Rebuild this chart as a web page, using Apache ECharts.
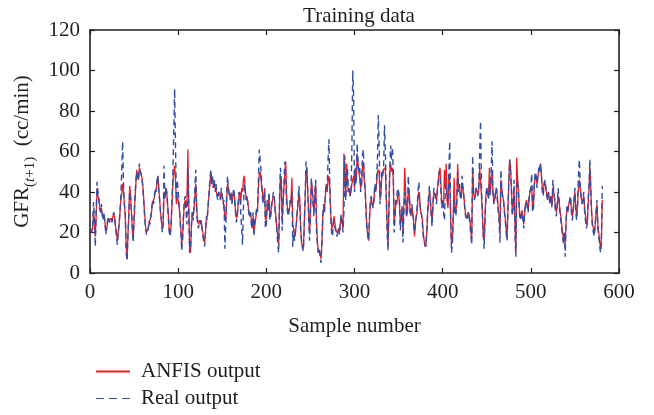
<!DOCTYPE html>
<html>
<head>
<meta charset="utf-8">
<script src="https://cdn.jsdelivr.net/npm/echarts@6/dist/echarts.min.js"></script>
<style>
  html, body { margin: 0; padding: 0; background: #fff; }
  #chart { width: 654px; height: 415px; }
</style>
</head>
<body>
<div id="chart"></div>
<script>
// Glomerular filtration rate, one value per training sample (cc/min)
const realOutput = [
  22, 20, 24, 35, 28, 13, 30, 45, 40, 38,
  32, 30, 34, 28, 26, 30, 24, 19, 22, 26,
  28, 25, 26, 27, 25, 28, 30, 27, 22, 18,
  14, 20, 24, 30, 38, 51, 65, 44, 34, 30,
  10, 6, 18, 28, 40, 38, 30, 22, 15, 28,
  38, 45, 50, 48, 46, 54, 50, 49, 46, 42,
  35, 28, 22, 19, 20, 21, 26, 24, 28, 32,
  36, 34, 38, 42, 40, 46, 48, 40, 36, 30,
  26, 20, 24, 53, 36, 42, 40, 34, 26, 20,
  18, 24, 36, 48, 70, 91, 62, 36, 46, 40,
  34, 28, 20, 11, 16, 28, 36, 38, 30, 24,
  52, 32, 10, 12, 24, 30, 26, 34, 42, 51,
  30, 24, 22, 25, 24, 26, 22, 18, 16, 13,
  20, 28, 26, 34, 40, 46, 51, 44, 48, 42,
  46, 40, 44, 38, 36, 40, 38, 36, 42, 38,
  34, 36, 12, 24, 38, 48, 42, 38, 36, 40,
  34, 38, 42, 36, 30, 25, 28, 34, 40, 38,
  30, 22, 14, 32, 44, 40, 36, 38, 34, 30,
  28, 30, 24, 22, 30, 18, 26, 28, 32, 30,
  46, 61, 56, 50, 42, 34, 38, 40, 22, 24,
  36, 30, 40, 26, 28, 34, 36, 40, 38, 30,
  26, 20, 14, 10, 38, 52, 46, 21, 36, 44,
  55, 48, 34, 30, 28, 32, 36, 34, 40, 13,
  22, 16, 20, 24, 30, 36, 43, 34, 20, 16,
  12, 11, 22, 38, 55, 50, 40, 28, 16, 30,
  47, 42, 34, 28, 40, 46, 20, 14, 10, 12,
  8, 5, 14, 28, 34, 30, 40, 44, 42, 56,
  66, 44, 28, 20, 18, 24, 26, 22, 20, 18,
  20, 22, 19, 26, 29, 24, 20, 30, 58, 36,
  46, 52, 40, 42, 38, 40, 60, 100, 88, 40,
  48, 44, 64, 55, 50, 52, 40, 44, 58, 61,
  48, 42, 30, 22, 20, 16, 28, 36, 38, 34,
  32, 36, 44, 40, 46, 56, 78, 62, 34, 40,
  50, 48, 52, 73, 60, 40, 20, 11, 30, 52,
  63, 56, 62, 50, 20, 28, 36, 38, 42, 40,
  36, 21, 28, 33, 15, 30, 40, 36, 28, 30,
  48, 40, 30, 28, 34, 30, 26, 20, 24, 28,
  32, 40, 45, 36, 30, 29, 24, 18, 16, 14,
  13, 20, 30, 38, 43, 36, 28, 23, 34, 42,
  40, 36, 34, 40, 46, 50, 48, 40, 32, 36,
  30, 26, 40, 44, 38, 34, 50, 65, 30, 10,
  14, 28, 36, 30, 28, 34, 50, 40, 44, 38,
  36, 48, 42, 38, 32, 28, 28, 26, 30, 28,
  24, 18, 14, 58, 40, 36, 38, 42, 40, 38,
  44, 60, 75, 42, 30, 20, 12, 26, 36, 42,
  40, 36, 44, 38, 50, 65, 40, 34, 36, 40,
  42, 36, 30, 26, 15, 51, 42, 38, 36, 30,
  26, 20, 16, 30, 44, 56, 50, 40, 28, 34,
  46, 20, 8, 40, 46, 40, 30, 26, 28, 30,
  26, 22, 30, 34, 35, 32, 30, 38, 40, 42,
  49, 30, 32, 45, 50, 48, 42, 48, 52, 50,
  54, 48, 40, 38, 44, 46, 42, 38, 36, 40,
  36, 34, 38, 32, 46, 40, 36, 30, 28, 34,
  42, 36, 30, 26, 22, 18, 14, 20, 8, 26,
  33, 30, 34, 36, 38, 30, 26, 30, 36, 42,
  30, 26, 34, 48, 56, 44, 38, 34, 36, 40,
  30, 26, 22, 24, 36, 44, 56, 40, 28, 22,
  20, 18, 24, 30, 36, 22, 18, 14, 10, 14,
  43
];

const anfisOutput = [
  20, 21, 22, 30, 26, 18, 28, 42, 38, 36,
  33, 30, 32, 29, 27, 28, 25, 21, 22, 25,
  27, 26, 26, 27, 26, 28, 29, 27, 23, 20,
  16, 20, 24, 30, 36, 39, 44, 40, 34, 28,
  14, 7, 18, 30, 43, 38, 30, 22, 17, 26,
  36, 44, 51, 47, 46, 52, 50, 49, 47, 43,
  36, 29, 23, 20, 21, 22, 25, 26, 28, 31,
  35, 36, 37, 40, 41, 45, 48, 42, 36, 30,
  26, 22, 24, 40, 38, 42, 40, 34, 28, 20,
  19, 24, 34, 44, 50, 53, 46, 34, 38, 36,
  33, 28, 22, 14, 18, 27, 34, 36, 32, 36,
  61, 34, 12, 10, 22, 30, 28, 32, 38, 44,
  32, 26, 24, 26, 25, 26, 23, 20, 17, 15,
  20, 27, 28, 33, 39, 44, 50, 45, 46, 42,
  44, 42, 42, 39, 38, 40, 39, 37, 40, 38,
  36, 36, 28, 26, 36, 44, 42, 39, 37, 39,
  35, 38, 40, 37, 31, 27, 28, 34, 38, 40,
  34, 42, 40, 46, 48, 42, 37, 38, 35, 31,
  28, 30, 26, 22, 28, 20, 24, 27, 31, 32,
  42, 49, 50, 46, 42, 38, 36, 42, 26, 27,
  34, 32, 38, 28, 29, 33, 36, 38, 37, 32,
  27, 22, 18, 14, 34, 48, 45, 26, 34, 42,
  50, 55, 38, 32, 30, 31, 34, 36, 47, 24,
  22, 18, 20, 24, 30, 34, 40, 35, 22, 15,
  13, 12, 24, 36, 50, 52, 40, 30, 20, 30,
  44, 42, 36, 30, 38, 44, 24, 15, 10, 11,
  9, 7, 15, 27, 33, 32, 38, 44, 40, 46,
  48, 42, 30, 23, 22, 26, 28, 24, 21, 20,
  21, 22, 20, 25, 28, 25, 22, 59, 50, 38,
  54, 46, 40, 42, 38, 40, 44, 44, 48, 42,
  52, 46, 59, 54, 50, 50, 42, 44, 52, 55,
  46, 42, 32, 24, 18, 16, 26, 34, 37, 34,
  33, 36, 42, 40, 44, 50, 51, 49, 36, 40,
  48, 50, 51, 52, 51, 38, 24, 14, 32, 50,
  54, 50, 52, 46, 24, 30, 36, 34, 38, 40,
  34, 24, 26, 32, 20, 34, 52, 40, 28, 30,
  42, 40, 32, 28, 32, 30, 26, 18, 24, 28,
  30, 38, 40, 36, 30, 29, 26, 20, 16, 13,
  14, 20, 30, 36, 40, 36, 30, 25, 34, 40,
  40, 38, 36, 42, 44, 50, 52, 44, 34, 36,
  32, 51, 42, 54, 36, 32, 46, 48, 26, 14,
  16, 28, 47, 32, 30, 36, 54, 42, 44, 38,
  37, 44, 42, 38, 33, 29, 28, 27, 30, 29,
  26, 20, 17, 52, 40, 37, 38, 42, 40, 39,
  42, 52, 52, 38, 30, 18, 16, 28, 38, 42,
  40, 38, 52, 40, 46, 50, 40, 35, 36, 40,
  42, 38, 32, 28, 20, 46, 42, 38, 36, 31,
  27, 22, 17, 32, 46, 56, 52, 42, 30, 34,
  40, 24, 10, 57, 46, 40, 32, 27, 28, 31,
  27, 24, 30, 34, 36, 34, 31, 36, 40, 42,
  43, 32, 34, 44, 48, 47, 44, 48, 50, 52,
  54, 48, 42, 39, 44, 45, 42, 39, 37, 40,
  37, 35, 38, 34, 42, 40, 37, 32, 30, 34,
  38, 36, 31, 28, 24, 20, 17, 20, 14, 26,
  32, 31, 34, 35, 37, 32, 28, 31, 36, 40,
  32, 28, 34, 42, 46, 42, 38, 35, 36, 38,
  32, 28, 24, 25, 34, 42, 52, 42, 30, 24,
  22, 20, 24, 30, 34, 24, 20, 16, 12, 16,
  36
];

const xTicks = [0, 100, 200, 300, 400, 500, 600];
const yTicks = [0, 20, 40, 60, 80, 100, 120];

const FONT = '"Liberation Serif", "DejaVu Serif", serif';
const INK = '#231f20';
const RED = '#ee1c25';
const BLUE = '#2f4fa6';

// legend keys: a solid bar and a three-dash stroke
const SOLID_KEY = 'rect';
const DASHED_KEY = 'path://M0,0h8v1h-8z M13,0h8v1h-8z M26,0h8v1h-8z';

const toPairs = arr => arr.map((v, i) => [i + 1, v]);

// shared styling for the four sides of the frame
const boxAxis = (extra) => Object.assign({
  axisLine: { show: true, onZero: false, lineStyle: { color: INK, width: 1.6 } },
  axisTick: { show: true, inside: true, length: 5, lineStyle: { color: INK, width: 1.2 } },
  splitLine: { show: false }
}, extra);

const legendEntry = (name, icon, color, top) => ({
  left: 91, top: top,
  itemWidth: 34, itemHeight: 2,
  itemStyle: { color: color, borderWidth: 0 },
  lineStyle: { width: 0 },
  textStyle: { fontFamily: FONT, fontSize: 21, color: INK, padding: [0, 0, 0, 6] },
  data: [{ name: name, icon: icon, itemStyle: { color: color, borderWidth: 0 } }]
});

const chart = echarts.init(document.getElementById('chart'), null, { renderer: 'canvas' });

chart.setOption({
  animation: false,
  backgroundColor: '#ffffff',
  title: {
    text: 'Training data',
    left: 354, textAlign: 'center',
    top: 1,
    textStyle: { fontFamily: FONT, fontSize: 21, fontWeight: 'normal', color: INK }
  },
  grid: { left: 90, right: 35, top: 30, bottom: 142, containLabel: false },
  legend: [
    legendEntry('ANFIS output', SOLID_KEY, RED, 356),
    legendEntry('Real output', DASHED_KEY, BLUE, 383)
  ],
  xAxis: [
    boxAxis({
      type: 'value', min: xTicks[0], max: xTicks[xTicks.length - 1], interval: 100,
      position: 'bottom',
      name: 'Sample number', nameLocation: 'middle', nameGap: 43,
      nameTextStyle: { fontFamily: FONT, fontSize: 21, color: INK },
      axisLabel: { margin: 9, fontFamily: FONT, fontSize: 21, color: INK }
    }),
    boxAxis({
      type: 'value', min: xTicks[0], max: xTicks[xTicks.length - 1], interval: 100,
      position: 'top', axisLabel: { show: false }
    })
  ],
  yAxis: [
    boxAxis({
      type: 'value', min: yTicks[0], max: yTicks[yTicks.length - 1], interval: 20,
      position: 'left',
      name: '{a|GFR}{s|(}{i|t}{s|+1)}{a|  (cc/min)}',
      nameLocation: 'middle', nameGap: 44, nameRotate: 90,
      nameTextStyle: {
        fontFamily: FONT, fontSize: 21, color: INK,
        rich: {
          a: { fontFamily: FONT, fontSize: 21, color: INK, lineHeight: 28, verticalAlign: 'top' },
          s: { fontFamily: FONT, fontSize: 15, color: INK, verticalAlign: 'top', padding: [11, 0, 0, 0] },
          i: { fontFamily: FONT, fontSize: 15, fontStyle: 'italic', color: INK, verticalAlign: 'top', padding: [11, 0, 0, 0] }
        }
      },
      axisLabel: { margin: 10, fontFamily: FONT, fontSize: 21, color: INK }
    }),
    boxAxis({
      type: 'value', min: yTicks[0], max: yTicks[yTicks.length - 1], interval: 20,
      position: 'right', axisLabel: { show: false }
    })
  ],
  series: [
    {
      name: 'ANFIS output', type: 'line',
      data: toPairs(anfisOutput),
      showSymbol: false, symbol: 'none',
      lineStyle: { color: RED, width: 1.3 },
      itemStyle: { color: RED },
      z: 2
    },
    {
      name: 'Real output', type: 'line',
      data: toPairs(realOutput),
      showSymbol: false, symbol: 'none',
      lineStyle: { color: BLUE, width: 1.4, type: [6, 4] },
      itemStyle: { color: BLUE },
      z: 3
    }
  ]
});
</script>
</body>
</html>
